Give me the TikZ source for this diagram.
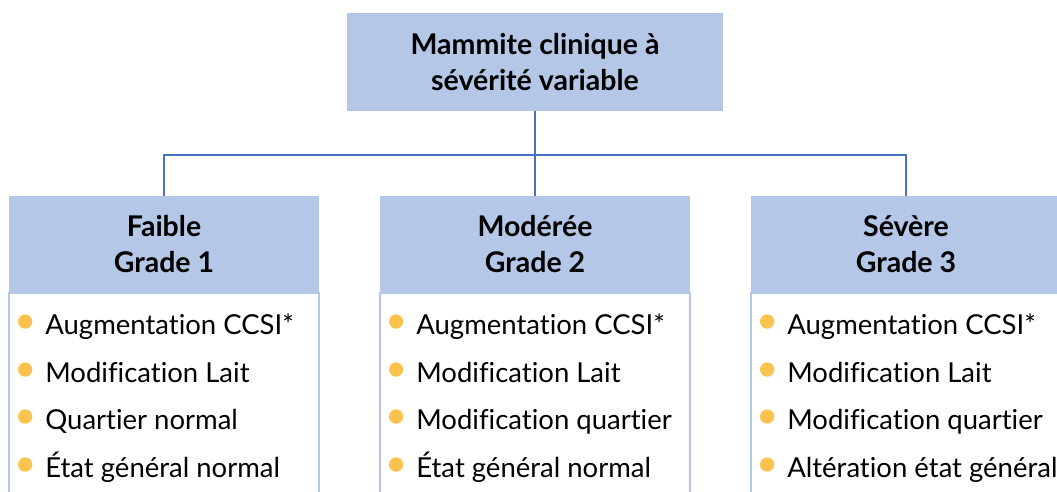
\documentclass[tikz,border=0pt]{standalone}
\usepackage{fontspec}
\setmainfont{Lato}[Ligatures=NoCommon]
\usetikzlibrary{positioning}

\definecolor{headblue}{HTML}{B4C7E7}
\definecolor{linkblue}{HTML}{4472C4}
\definecolor{dotorange}{HTML}{FBC24E}

% orange bullet in front of each line
\newcommand{\puce}{\raisebox{1pt}{\scalebox{1.4}{\color{dotorange}\textbullet}}\hspace{9pt}}

\begin{document}
\begin{tikzpicture}[
            x = 1pt, y = 1pt, % one unit is one pixel of the sketch
            outer sep = 0pt,
            head/.style = {fill=headblue, minimum width=310pt, minimum height=97pt,
                align=center, font=\bfseries\fontsize{28.5}{36}\selectfont},
            listbox/.style = {draw=headblue, line width=2pt, fill=white,
                minimum width=310pt, minimum height=215pt},
            items/.style = {align=left, inner sep=0pt,
                font=\fontsize{27.5}{47.6}\selectfont},
            link/.style = {draw=linkblue, line width=2.6pt}
        ]

        \clip (0,0) rectangle (1057,492);

        % top of the tree
        \node[head, minimum width=376pt, minimum height=98pt] (top) at (535,430)
            {Mammite clinique à\\sévérité variable};

        % the three grades
        \node[head] (h2) [below=85pt of top] {Modérée\\Grade 2};
        \node[head] (h1) [left=61pt of h2] {Faible\\Grade 1};
        \node[head] (h3) [right=61pt of h2] {Sévère\\Grade 3};

        \node[listbox] (l1) [below=0pt of h1] {};
        \node[listbox] (l2) [below=0pt of h2] {};
        \node[listbox] (l3) [below=0pt of h3] {};

        \node[items] (t1) [below right=21pt and 5pt of h1.south west]
            {\puce Augmentation CCSI*\\\puce Modification Lait\\
             \puce Quartier normal\\\puce État général normal};
        \node[items] (t2) [below right=21pt and 5pt of h2.south west]
            {\puce Augmentation CCSI*\\\puce Modification Lait\\
             \puce Modification quartier\\\puce État général normal};
        \node[items] (t3) [below right=21pt and 5pt of h3.south west]
            {\puce Augmentation CCSI*\\\puce Modification Lait\\
             \puce Modification quartier\\\puce Altération état général};

        % connectors
        \draw[link] (top.south) -- (h2.north);
        \draw[link] (top.south) -- ++(0,-44) -| (h1.north);
        \draw[link] (top.south) -- ++(0,-44) -| (h3.north);
\end{tikzpicture}
\end{document}
